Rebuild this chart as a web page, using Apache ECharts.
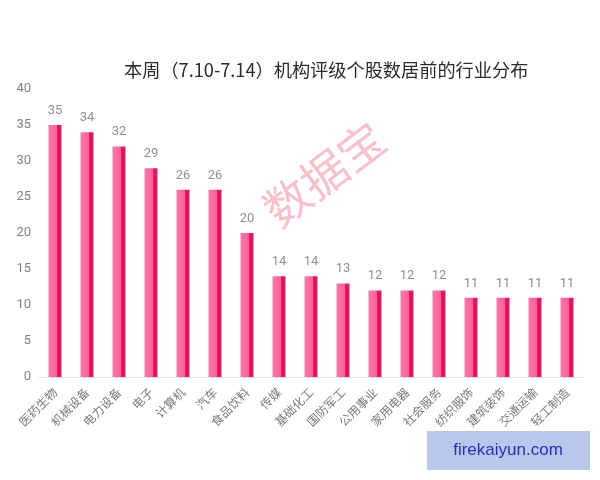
<!DOCTYPE html>
<html>
<head>
<meta charset="utf-8">
<style>
  html, body { margin: 0; padding: 0; background: #fff; }
  #chart { width: 600px; height: 480px; }
</style>
<script src="https://cdn.jsdelivr.net/npm/echarts@6/dist/echarts.min.js"></script>
</head>
<body>
<div id="chart"></div>
<script>
var categories = ['医药生物', '机械设备', '电力设备', '电子', '计算机', '汽车', '食品饮料', '传媒', '基础化工', '国防军工', '公用事业', '家用电器', '社会服务', '纺织服饰', '建筑装饰', '交通运输', '轻工制造'];
var counts = [35, 34, 32, 29, 26, 26, 20, 14, 14, 13, 12, 12, 12, 11, 11, 11, 11];
var yTicks = [0, 5, 10, 15, 20, 25, 30, 35, 40];

var cjk = '"Noto Sans CJK SC", sans-serif';
var chart = echarts.init(document.getElementById('chart'));

chart.setOption({
  animation: false,
  title: {
    text: '本周（7.10-7.14）机构评级个股数居前的行业分布',
    left: 124,
    top: 61,
    padding: 0,
    textStyle: { fontFamily: cjk, fontSize: 18.2, fontWeight: 'normal', color: '#2b2b2b' }
  },
  grid: { left: 39, right: 17, top: 89, bottom: 103 },
  xAxis: {
    type: 'category',
    data: categories,
    axisLine: { lineStyle: { color: '#e4e0e2', width: 1 } },
    axisTick: { show: false },
    axisLabel: {
      interval: 0,
      rotate: 45,
      margin: 13,
      fontFamily: cjk,
      fontSize: 12,
      color: '#7a7a7a'
    }
  },
  yAxis: {
    type: 'value',
    min: yTicks[0],
    max: yTicks[yTicks.length - 1],
    interval: 5,
    axisLine: { show: false },
    axisTick: { show: false },
    splitLine: { show: false },
    axisLabel: { margin: 8, fontFamily: 'Roboto, sans-serif', fontSize: 13, color: '#808080' }
  },
  series: [{
    type: 'bar',
    data: counts,
    barWidth: 13,
    itemStyle: {
      // 左边粉色，右边深色一条
      color: new echarts.graphic.LinearGradient(0, 0, 1, 0, [
        { offset: 0, color: '#f57ca8' },
        { offset: 0.66, color: '#ff5c97' },
        { offset: 0.67, color: '#d81b63' },
        { offset: 1, color: '#d81b63' }
      ])
    },
    label: {
      show: true,
      position: 'top',
      distance: 8,
      fontFamily: 'Roboto, sans-serif',
      fontSize: 13,
      color: '#909090'
    }
  }],
  graphic: [
    {
      type: 'text',
      x: 324,
      y: 174,
      rotation: Math.PI * 37 / 180,
      style: {
        text: '数据宝',
        x: 0,
        y: 0,
        align: 'center',
        verticalAlign: 'middle',
        font: '46px "Noto Sans CJK SC"',
        fill: 'rgba(240,130,155,0.5)'
      }
    },
    {
      type: 'rect',
      shape: { x: 427, y: 431, width: 163, height: 39 },
      style: { fill: '#b9c7ec' }
    },
    {
      type: 'text',
      style: {
        text: 'firekaiyun.com',
        x: 508,
        y: 450,
        align: 'center',
        verticalAlign: 'middle',
        font: '17px "Liberation Sans"',
        fill: '#2c2fb4'
      }
    }
  ]
});
</script>
</body>
</html>
